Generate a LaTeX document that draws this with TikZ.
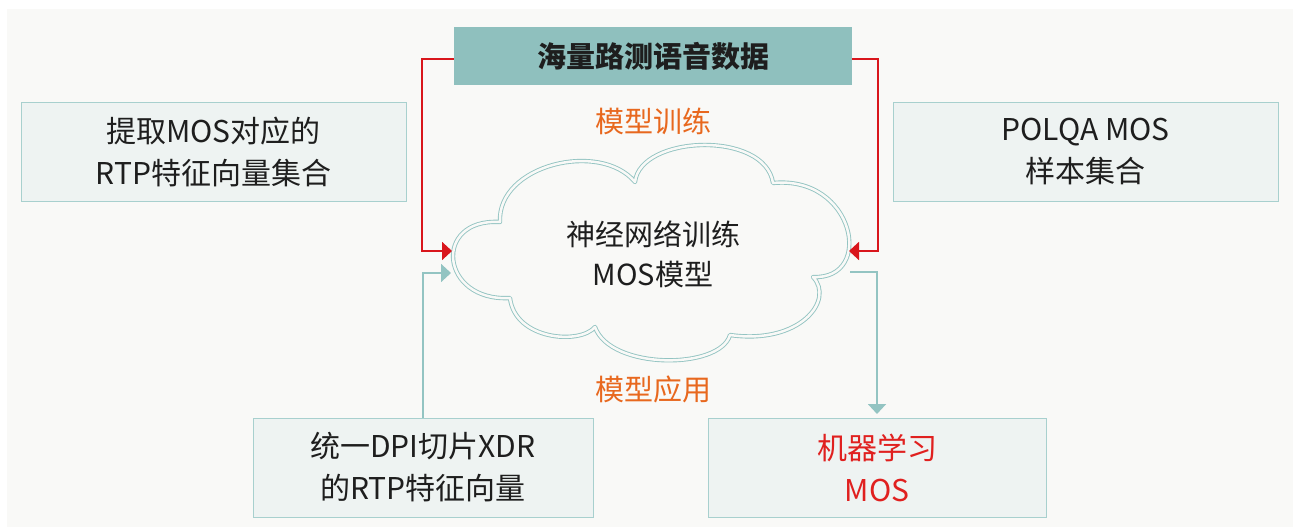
\documentclass[tikz,border=0pt]{standalone}
\usepackage{fontspec}
\setmainfont{Noto Sans CJK SC}
\usetikzlibrary{arrows.meta}
\definecolor{bgc}{HTML}{F9F9F7}
\definecolor{tealfill}{HTML}{8FC0BE}
\definecolor{tealline}{HTML}{93C4C2}
\definecolor{boxfill}{HTML}{EEF3F2}
\definecolor{boxline}{HTML}{A8D0CE}
\definecolor{redline}{HTML}{D9161C}
\definecolor{orangetxt}{HTML}{E8681E}
\definecolor{redtxt}{HTML}{E0201F}
\definecolor{txt}{HTML}{1E1E1E}
\tikzset{
  infobox/.style={draw=boxline, fill=boxfill, line width=1pt, text=txt,
    align=center, font=\fontsize{30}{42}\selectfont, inner sep=0pt},
  lbl/.style={text=orangetxt, font=\fontsize{29}{34}\selectfont, inner sep=0pt},
  redarr/.style={draw=redline, line width=1.9pt, -{Triangle[length=10pt,width=18pt]}},
  tealarr/.style={draw=tealline, line width=1.9pt, -{Triangle[length=10pt,width=18pt]}},
  cloudline/.style={draw=tealline, line width=0.9pt, double=bgc, double distance=2.5pt, line join=round},
}
\begin{document}
\begin{tikzpicture}[x=1pt,y=-1pt]
\useasboundingbox (0,0) rectangle (1293,527);
\fill[white] (0,0) rectangle (1293,527);
\fill[bgc] (7,9) rectangle (1293,527);

\node[fill=tealfill, minimum width=398pt, minimum height=58pt, inner sep=0pt,
  font=\fontsize{29}{34}\selectfont\bfseries, text=txt] (top) at (653,56) {海量路测语音数据};

\node[infobox, minimum width=385pt, minimum height=99pt] (tl) at (213.5,151.5) {提取MOS对应的\\RTP特征向量集合};
\node[infobox, minimum width=385pt, minimum height=99pt] (tr) at (1085.5,151.5) {POLQA MOS\\样本集合};
\node[infobox, minimum width=340pt, minimum height=99pt] (bl) at (423,467.5) {统一DPI切片XDR\\的RTP特征向量};
\node[infobox, minimum width=338pt, minimum height=99pt, text=redtxt] (br) at (877,467.5) {机器学习\\MOS};

\node[lbl] (train) at (653,121) {模型训练};
\node[lbl] (apply) at (653,389) {模型应用};

% cloud
\draw[cloudline] (500,222)
  .. controls (497,165) and (600,140) .. (635,182)
  .. controls (640,135) and (765,130) .. (773,183)
  .. controls (855,175) and (875,280) .. (813,277)
  .. controls (835,300) and (800,345) .. (730,335)
  .. controls (720,370) and (610,370) .. (595,327)
  .. controls (580,345) and (515,340) .. (510,298)
  .. controls (440,302) and (432,218) .. cycle;
\node[align=center, text=txt, font=\fontsize{29}{40}\selectfont, inner sep=0pt] (cl) at (653,254) {神经网络训练\\MOS模型};

\coordinate (rl) at (452,251);
\coordinate (rr) at (849,251);
\coordinate (tlin) at (451,273);
\coordinate (trout) at (850,272);
\coordinate (brin) at (877,414);

\draw[redarr] ([yshift=-3pt]top.west) -- ++(-32,0) |- (rl);
\draw[redarr] ([yshift=-3pt]top.east) -- ++(26,0) |- (rr);
\draw[tealarr] (bl.north) |- (tlin);
\draw[tealarr] (trout) -| (brin);
\end{tikzpicture}
\end{document}
